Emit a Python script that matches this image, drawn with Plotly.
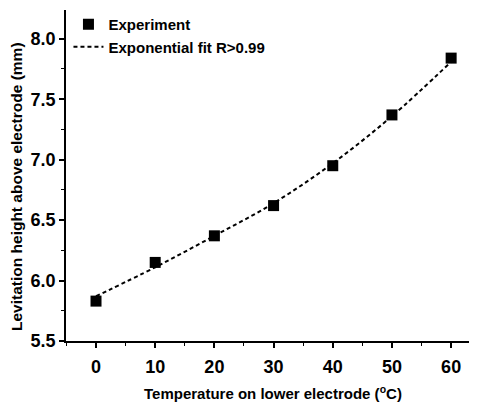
import plotly.graph_objects as go

temperature = [0, 10, 20, 30, 40, 50, 60]
height_exp = [5.83, 6.15, 6.37, 6.62, 6.95, 7.37, 7.84]
fit_x = [0, 10, 20, 30, 40, 50, 60]
fit_y = [5.87, 6.11, 6.37, 6.64, 6.97, 7.36, 7.81]

x_ticks = [0, 10, 20, 30, 40, 50, 60]
y_ticks = [5.5, 6.0, 6.5, 7.0, 7.5, 8.0]
y_tick_labels = ["5.5", "6.0", "6.5", "7.0", "7.5", "8.0"]

FONT = "Liberation Sans, Arial, sans-serif"

fig = go.Figure()
fig.add_trace(go.Scatter(
    x=temperature, y=height_exp, mode="markers", name="<b>Experiment</b>",
    marker=dict(symbol="square", size=11, color="black"),
))
fig.add_trace(go.Scatter(
    x=fit_x, y=fit_y, mode="lines", name="<b>Exponential fit R>0.99</b>",
    line=dict(color="black", width=2, dash="4px,3px", shape="spline"),
))

axis_common = dict(
    showgrid=False, zeroline=False, showline=True, linecolor="black", linewidth=1.6,
    ticks="outside", ticklen=5, tickwidth=1.6, tickcolor="black", automargin=False,
    tickfont=dict(family=FONT, size=18, color="black", weight="bold"),
)

# The page body has an 8px default margin, so the figure is sized to the remaining area.
fig.update_layout(
    width=469, height=399,
    margin=dict(l=58, r=1, t=0, b=66),
    plot_bgcolor="white", paper_bgcolor="white",
    font=dict(family=FONT, color="black"),
    xaxis=dict(
        range=[-5.07, 64.2], tickvals=x_ticks, ticklabelstandoff=4,
        minor=dict(dtick=5, tick0=0, ticks="outside", ticklen=3, tickwidth=1.3, tickcolor="black"),
        **axis_common,
    ),
    yaxis=dict(
        range=[5.5, 8.238], tickvals=y_ticks, ticktext=y_tick_labels,
        minor=dict(dtick=0.25, tick0=5.5, ticks="outside", ticklen=3, tickwidth=1.3, tickcolor="black"),
        **axis_common,
    ),
    legend=dict(
        x=0.006, y=1.006, xanchor="left", yanchor="top",
        bgcolor="rgba(0,0,0,0)", font=dict(family=FONT, size=15, color="black"),
        itemwidth=30, tracegroupgap=0,
    ),
    showlegend=True,
    annotations=[
        dict(text="<b>Temperature on lower electrode (<sup>o</sup>C)</b>",
             xref="paper", yref="paper", x=0.505, y=-0.156, xanchor="center", yanchor="middle",
             showarrow=False, font=dict(family=FONT, size=15, color="black")),
        dict(text="<b>Levitation height above electrode (mm)</b>",
             xref="paper", yref="paper", x=-0.119, y=0.466, xanchor="center", yanchor="middle",
             textangle=-90, showarrow=False, font=dict(family=FONT, size=15.5, color="black")),
    ],
)

fig.write_html("out.html")
